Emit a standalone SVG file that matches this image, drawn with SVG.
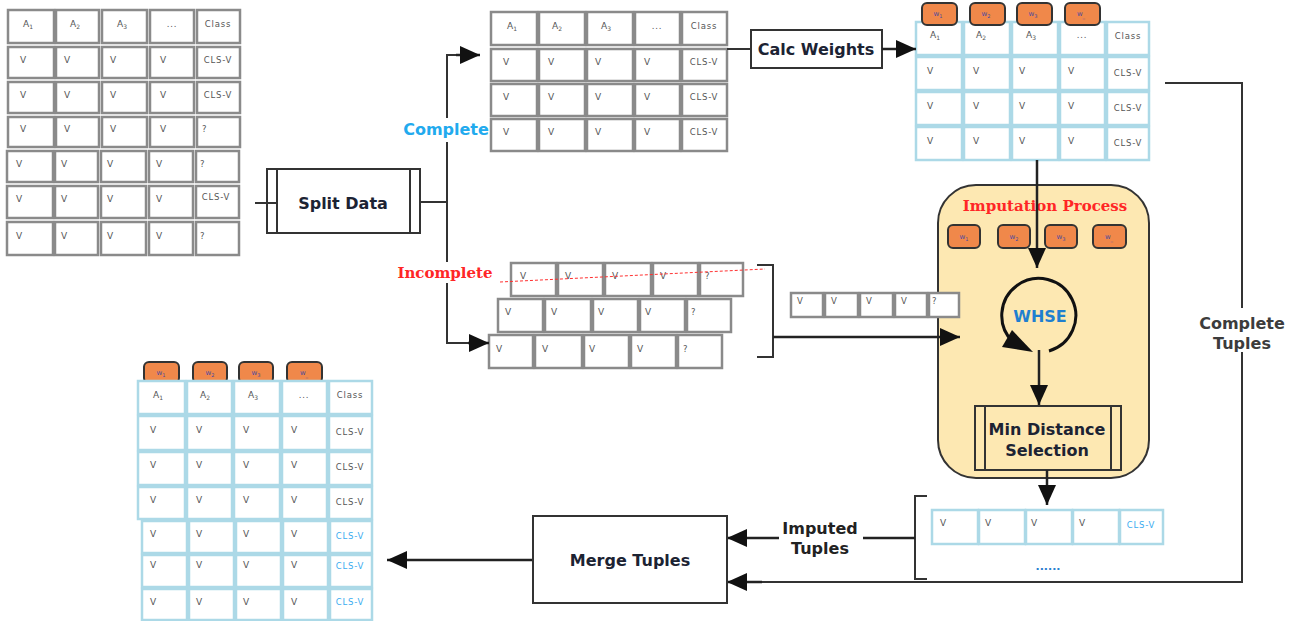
<svg xmlns="http://www.w3.org/2000/svg" width="1298" height="621" viewBox="0 0 1298 621">
<style>
.cg{fill:#fff;stroke:#8a8a8a;stroke-width:2.5}
.cb{fill:#fff;stroke:#acd9e7;stroke-width:2.5}
.t{font-family:"DejaVu Sans",sans-serif;font-size:9px;fill:#555}
.ts{font-family:"DejaVu Sans",sans-serif;font-size:8.5px;fill:#555;letter-spacing:0.8px}
.m{text-anchor:middle}
.blue{fill:#3aabf0}
.bd{fill:#f0884a;stroke:#333;stroke-width:2}
.bt{font-family:"DejaVu Sans",sans-serif;font-size:7px;fill:#4a4aa0;text-anchor:middle}
.ln{stroke:#333;stroke-width:2;fill:none}
.ar{stroke:#222;stroke-width:2.5;fill:none;marker-end:url(#ah)}
.lbl{font-family:"DejaVu Sans",sans-serif;font-weight:bold;font-size:16px;fill:#1c2333;text-anchor:middle}
.box{fill:#fff;stroke:#333;stroke-width:2}
</style>
<defs>
<marker id="ah" markerUnits="userSpaceOnUse" markerWidth="22" markerHeight="20" refX="20" refY="9" orient="auto"><path d="M0,0 L20,9 L0,18 z" fill="#111"/></marker>
</defs>
<rect width="1298" height="621" fill="#fff"/>

<g id="table-all">
<rect class="cg" x="8" y="10" width="46" height="33"/><rect class="cg" x="56" y="10" width="43" height="33"/><rect class="cg" x="102" y="10" width="45" height="33"/><rect class="cg" x="150" y="10" width="44" height="33"/><rect class="cg" x="197" y="10" width="43" height="33"/>
<rect class="cg" x="8" y="47" width="46" height="31"/><rect class="cg" x="56" y="47" width="43" height="31"/><rect class="cg" x="102" y="47" width="45" height="31"/><rect class="cg" x="150" y="47" width="44" height="31"/><rect class="cg" x="197" y="47" width="43" height="31"/>
<rect class="cg" x="8" y="82" width="46" height="31"/><rect class="cg" x="56" y="82" width="43" height="31"/><rect class="cg" x="102" y="82" width="45" height="31"/><rect class="cg" x="150" y="82" width="44" height="31"/><rect class="cg" x="197" y="82" width="43" height="31"/>
<rect class="cg" x="8" y="117" width="46" height="30"/><rect class="cg" x="56" y="117" width="43" height="30"/><rect class="cg" x="102" y="117" width="45" height="30"/><rect class="cg" x="150" y="117" width="44" height="30"/><rect class="cg" x="197" y="117" width="43" height="30"/>
<rect class="cg" x="7" y="151" width="46" height="31"/><rect class="cg" x="55" y="151" width="43" height="31"/><rect class="cg" x="101" y="151" width="45" height="31"/><rect class="cg" x="149" y="151" width="44" height="31"/><rect class="cg" x="196" y="151" width="43" height="31"/>
<rect class="cg" x="7" y="186" width="46" height="32"/><rect class="cg" x="55" y="186" width="43" height="32"/><rect class="cg" x="101" y="186" width="45" height="32"/><rect class="cg" x="149" y="186" width="44" height="32"/><rect class="cg" x="196" y="186" width="43" height="32"/>
<rect class="cg" x="7" y="222" width="46" height="33"/><rect class="cg" x="55" y="222" width="43" height="33"/><rect class="cg" x="101" y="222" width="45" height="33"/><rect class="cg" x="149" y="222" width="44" height="33"/><rect class="cg" x="196" y="222" width="43" height="33"/>
<text class="t" x="23" y="27">A<tspan font-size="6" dy="2">1</tspan></text><text class="t" x="70" y="27">A<tspan font-size="6" dy="2">2</tspan></text><text class="t" x="117" y="27">A<tspan font-size="6" dy="2">3</tspan></text><text class="ts m" x="172" y="27">...</text><text class="ts m" x="218" y="27">Class</text>
<text class="t" x="20" y="63">V</text><text class="t" x="64" y="63">V</text><text class="t" x="110" y="63">V</text><text class="t" x="160" y="63">V</text><text class="ts m" x="218" y="63">CLS-V</text>
<text class="t" x="20" y="98">V</text><text class="t" x="64" y="98">V</text><text class="t" x="110" y="98">V</text><text class="t" x="160" y="98">V</text><text class="ts m" x="218" y="98">CLS-V</text>
<text class="t" x="20" y="132">V</text><text class="t" x="64" y="132">V</text><text class="t" x="110" y="132">V</text><text class="t" x="160" y="132">V</text><text class="ts" x="202" y="132">?</text>
<text class="t" x="16" y="167">V</text><text class="t" x="61" y="167">V</text><text class="t" x="107" y="167">V</text><text class="t" x="156" y="167">V</text><text class="ts" x="200" y="167">?</text>
<text class="t" x="16" y="202">V</text><text class="t" x="61" y="202">V</text><text class="t" x="107" y="202">V</text><text class="t" x="156" y="202">V</text><text class="ts m" x="216" y="200">CLS-V</text>
<text class="t" x="16" y="239">V</text><text class="t" x="61" y="239">V</text><text class="t" x="107" y="239">V</text><text class="t" x="156" y="239">V</text><text class="ts" x="200" y="239">?</text>
</g>

<g id="split-data">
<rect class="box" x="267" y="169" width="153" height="64"/>
<line class="ln" x1="277" y1="169" x2="277" y2="233"/>
<line class="ln" x1="410" y1="169" x2="410" y2="233"/>
<text class="lbl" x="343" y="209">Split Data</text>
</g>

<g id="table-complete">
<rect class="cg" x="491" y="12" width="46" height="33"/><rect class="cg" x="539" y="12" width="46" height="33"/><rect class="cg" x="587" y="12" width="46" height="33"/><rect class="cg" x="635" y="12" width="45" height="33"/><rect class="cg" x="682" y="12" width="45" height="33"/>
<rect class="cg" x="491" y="49" width="46" height="32"/><rect class="cg" x="539" y="49" width="46" height="32"/><rect class="cg" x="587" y="49" width="46" height="32"/><rect class="cg" x="635" y="49" width="45" height="32"/><rect class="cg" x="682" y="49" width="45" height="32"/>
<rect class="cg" x="491" y="84" width="46" height="32"/><rect class="cg" x="539" y="84" width="46" height="32"/><rect class="cg" x="587" y="84" width="46" height="32"/><rect class="cg" x="635" y="84" width="45" height="32"/><rect class="cg" x="682" y="84" width="45" height="32"/>
<rect class="cg" x="491" y="119" width="46" height="32"/><rect class="cg" x="539" y="119" width="46" height="32"/><rect class="cg" x="587" y="119" width="46" height="32"/><rect class="cg" x="635" y="119" width="45" height="32"/><rect class="cg" x="682" y="119" width="45" height="32"/>
<text class="t" x="507" y="29">A<tspan font-size="6" dy="2">1</tspan></text><text class="t" x="552" y="29">A<tspan font-size="6" dy="2">2</tspan></text><text class="t" x="601" y="29">A<tspan font-size="6" dy="2">3</tspan></text><text class="ts m" x="657" y="29">...</text><text class="ts m" x="704" y="29">Class</text>
<text class="t" x="503" y="65">V</text><text class="t" x="548" y="65">V</text><text class="t" x="595" y="65">V</text><text class="t" x="644" y="65">V</text><text class="ts m" x="704" y="65">CLS-V</text>
<text class="t" x="503" y="100">V</text><text class="t" x="548" y="100">V</text><text class="t" x="595" y="100">V</text><text class="t" x="644" y="100">V</text><text class="ts m" x="704" y="100">CLS-V</text>
<text class="t" x="503" y="135">V</text><text class="t" x="548" y="135">V</text><text class="t" x="595" y="135">V</text><text class="t" x="644" y="135">V</text><text class="ts m" x="704" y="135">CLS-V</text>
</g>

<g id="calc-weights">
<rect class="box" x="751" y="30" width="131" height="38"/>
<text class="lbl" x="816" y="55">Calc Weights</text>
</g>

<g id="table-weighted">
<rect class="cb" x="916" y="22" width="46" height="33"/><rect class="cb" x="964" y="22" width="46" height="33"/><rect class="cb" x="1012" y="22" width="46" height="33"/><rect class="cb" x="1060" y="22" width="45" height="33"/><rect class="cb" x="1107" y="22" width="42" height="33"/>
<rect class="cb" x="916" y="57" width="46" height="33"/><rect class="cb" x="964" y="57" width="46" height="33"/><rect class="cb" x="1012" y="57" width="46" height="33"/><rect class="cb" x="1060" y="57" width="45" height="33"/><rect class="cb" x="1107" y="57" width="42" height="33"/>
<rect class="cb" x="916" y="92" width="46" height="33"/><rect class="cb" x="964" y="92" width="46" height="33"/><rect class="cb" x="1012" y="92" width="46" height="33"/><rect class="cb" x="1060" y="92" width="45" height="33"/><rect class="cb" x="1107" y="92" width="42" height="33"/>
<rect class="cb" x="916" y="127" width="46" height="33"/><rect class="cb" x="964" y="127" width="46" height="33"/><rect class="cb" x="1012" y="127" width="46" height="33"/><rect class="cb" x="1060" y="127" width="45" height="33"/><rect class="cb" x="1107" y="127" width="42" height="33"/>
<rect class="bd" x="922" y="3" width="35" height="22" rx="5"/><rect class="bd" x="970" y="3" width="35" height="22" rx="5"/><rect class="bd" x="1017" y="3" width="35" height="22" rx="5"/><rect class="bd" x="1065" y="3" width="35" height="22" rx="5"/>
<text class="bt" x="938" y="16">w<tspan font-size="5" dy="1.5">1</tspan></text><text class="bt" x="986" y="16">w<tspan font-size="5" dy="1.5">2</tspan></text><text class="bt" x="1033" y="16">w<tspan font-size="5" dy="1.5">3</tspan></text><text class="bt" x="1081" y="16">w<tspan font-size="5" dy="1.5">_</tspan></text>
<text class="t" x="930" y="38">A<tspan font-size="6" dy="2">1</tspan></text><text class="t" x="976" y="38">A<tspan font-size="6" dy="2">2</tspan></text><text class="t" x="1026" y="38">A<tspan font-size="6" dy="2">3</tspan></text><text class="ts m" x="1082" y="38">...</text><text class="ts m" x="1128" y="39">Class</text>
<text class="t" x="927" y="74">V</text><text class="t" x="973" y="74">V</text><text class="t" x="1019" y="74">V</text><text class="t" x="1068" y="74">V</text><text class="ts m" x="1128" y="76">CLS-V</text>
<text class="t" x="927" y="109">V</text><text class="t" x="973" y="109">V</text><text class="t" x="1019" y="109">V</text><text class="t" x="1068" y="109">V</text><text class="ts m" x="1128" y="111">CLS-V</text>
<text class="t" x="927" y="144">V</text><text class="t" x="973" y="144">V</text><text class="t" x="1019" y="144">V</text><text class="t" x="1068" y="144">V</text><text class="ts m" x="1128" y="146">CLS-V</text>
</g>

<g id="imputation-process">
<rect x="938" y="185" width="211" height="293" rx="38" fill="#fde8b2" stroke="#333" stroke-width="2"/>
<text x="1045" y="211" font-family="'DejaVu Serif',serif" font-weight="bold" font-size="15" fill="#ff2626" text-anchor="middle">Imputation Process</text>
<rect class="bd" x="948" y="225" width="32" height="23" rx="5"/><rect class="bd" x="998" y="225" width="32" height="23" rx="5"/><rect class="bd" x="1045" y="225" width="32" height="23" rx="5"/><rect class="bd" x="1093" y="225" width="33" height="23" rx="5"/>
<text class="bt" x="964" y="239">w<tspan font-size="5" dy="1.5">1</tspan></text><text class="bt" x="1014" y="239">w<tspan font-size="5" dy="1.5">2</tspan></text><text class="bt" x="1061" y="239">w<tspan font-size="5" dy="1.5">3</tspan></text><text class="bt" x="1109" y="239">w<tspan font-size="5" dy="1.5">_</tspan></text>
</g>

<g id="whse">
<path d="M1049,351 A37,37 0 1 0 1013,342" fill="none" stroke="#111" stroke-width="3"/>
<polygon points="1012,330 1002,347 1033,352" fill="#111"/>
<text x="1040" y="322" font-family="'DejaVu Sans',sans-serif" font-weight="bold" font-size="16" fill="#1f7fd0" text-anchor="middle">WHSE</text>
</g>

<g id="min-distance">
<rect x="975" y="406" width="146" height="64" fill="none" stroke="#333" stroke-width="2"/>
<line class="ln" x1="985" y1="406" x2="985" y2="470"/>
<line class="ln" x1="1111" y1="406" x2="1111" y2="470"/>
<text class="lbl" x="1047" y="435">Min Distance</text>
<text class="lbl" x="1047" y="456">Selection</text>
</g>

<g id="incomplete-rows">
<rect class="cg" x="511" y="263" width="45" height="33"/><rect class="cg" x="558" y="263" width="45" height="33"/><rect class="cg" x="605" y="263" width="46" height="33"/><rect class="cg" x="653" y="263" width="45" height="33"/><rect class="cg" x="700" y="263" width="43" height="33"/>
<rect class="cg" x="498" y="299" width="45" height="33"/><rect class="cg" x="545" y="299" width="46" height="33"/><rect class="cg" x="593" y="299" width="45" height="33"/><rect class="cg" x="640" y="299" width="45" height="33"/><rect class="cg" x="687" y="299" width="44" height="33"/>
<rect class="cg" x="489" y="335" width="44" height="33"/><rect class="cg" x="535" y="335" width="47" height="33"/><rect class="cg" x="584" y="335" width="45" height="33"/><rect class="cg" x="631" y="335" width="45" height="33"/><rect class="cg" x="678" y="335" width="44" height="33"/>
<text class="t" x="520" y="279">V</text><text class="t" x="565" y="279">V</text><text class="t" x="612" y="279">V</text><text class="t" x="660" y="279">V</text><text class="ts" x="705" y="279">?</text>
<text class="t" x="505" y="315">V</text><text class="t" x="551" y="315">V</text><text class="t" x="598" y="315">V</text><text class="t" x="645" y="315">V</text><text class="ts" x="691" y="315">?</text>
<text class="t" x="496" y="352">V</text><text class="t" x="542" y="352">V</text><text class="t" x="589" y="352">V</text><text class="t" x="637" y="352">V</text><text class="ts" x="683" y="352">?</text>
<line x1="500" y1="282" x2="765" y2="269" stroke="#ff3030" stroke-width="1" stroke-dasharray="3,2"/>
</g>

<g id="connectors">
<line class="ln" x1="255" y1="203" x2="277" y2="203"/>
<line class="ln" x1="420" y1="202" x2="447" y2="202"/>
<path class="ln" d="M447,202 V55 H458" stroke-width="2.5"/>
<line class="ar" x1="456" y1="55" x2="480" y2="55"/>
<path class="ln" d="M447,202 V343 H470" stroke-width="2.5"/>
<line class="ar" x1="468" y1="343" x2="489" y2="343"/>
<line class="ln" x1="727" y1="49" x2="751" y2="49"/>
<line class="ar" x1="882" y1="49" x2="916" y2="49"/>
<line class="ar" x1="1037" y1="160" x2="1037" y2="268"/>
<path class="ln" d="M757,265 H773 V357 H757"/>
<line class="ar" x1="773" y1="337" x2="960" y2="337"/>
<line class="ar" x1="1039" y1="350" x2="1039" y2="405"/>
<line class="ar" x1="1047" y1="470" x2="1047" y2="505"/>
<path class="ln" d="M927,496 H915 V579 H927"/>
<line class="ar" x1="915" y1="538" x2="727" y2="538"/>
<path class="ln" d="M1165,83 H1242 V582 H760" stroke-width="2.5"/>
<line class="ar" x1="762" y1="582" x2="727" y2="582"/>
<line class="ar" x1="533" y1="560" x2="387" y2="560"/>
</g>

<g id="labels">
<rect x="403" y="118" width="86" height="24" fill="#fff"/>
<text x="446" y="135" font-family="'DejaVu Sans',sans-serif" font-weight="bold" font-size="16" fill="#22aaee" text-anchor="middle">Complete</text>
<rect x="394" y="262" width="102" height="21" fill="#fff"/>
<text x="445" y="278" font-family="'DejaVu Serif',serif" font-weight="bold" font-size="15" fill="#ff2626" text-anchor="middle">Incomplete</text>
<rect x="1192" y="308" width="100" height="44" fill="#fff"/>
<text x="1242" y="329" font-family="'DejaVu Sans',sans-serif" font-weight="bold" font-size="16" fill="#3c3c3c" text-anchor="middle">Complete</text>
<text x="1242" y="349" font-family="'DejaVu Sans',sans-serif" font-weight="bold" font-size="16" fill="#3c3c3c" text-anchor="middle">Tuples</text>
<rect x="779" y="518" width="84" height="40" fill="#fff"/>
<text x="820" y="534" font-family="'DejaVu Sans',sans-serif" font-weight="bold" font-size="16" fill="#222" text-anchor="middle">Imputed</text>
<text x="820" y="554" font-family="'DejaVu Sans',sans-serif" font-weight="bold" font-size="16" fill="#222" text-anchor="middle">Tuples</text>
</g>

<g id="query-row">
<rect class="cg" x="791" y="293" width="32" height="24" stroke-width="2"/><rect class="cg" x="825" y="293" width="33" height="24" stroke-width="2"/><rect class="cg" x="860" y="293" width="33" height="24" stroke-width="2"/><rect class="cg" x="895" y="293" width="32" height="24" stroke-width="2"/><rect class="cg" x="929" y="293" width="30" height="24" stroke-width="2"/>
<text class="ts" x="797" y="304" font-size="7">V</text><text class="ts" x="831" y="304" font-size="7">V</text><text class="ts" x="866" y="304" font-size="7">V</text><text class="ts" x="901" y="304" font-size="7">V</text><text class="ts" x="932" y="304" font-size="7">?</text>
</g>

<g id="imputed-row">
<rect class="cb" x="932" y="510" width="46" height="34"/><rect class="cb" x="979" y="510" width="46" height="34"/><rect class="cb" x="1026" y="510" width="46" height="34"/><rect class="cb" x="1073" y="510" width="46" height="34"/><rect class="cb" x="1120" y="510" width="43" height="34"/>
<text class="t" x="940" y="526">V</text><text class="t" x="985" y="526">V</text><text class="t" x="1031" y="526">V</text><text class="t" x="1079" y="526">V</text><text class="ts m blue" x="1141" y="528">CLS-V</text>
<text x="1048" y="570" font-family="'DejaVu Sans',sans-serif" font-weight="bold" font-size="11" fill="#2a7fd0" text-anchor="middle">......</text>
</g>

<g id="merge-tuples">
<rect class="box" x="533" y="516" width="194" height="87"/>
<text class="lbl" x="630" y="566">Merge Tuples</text>
</g>

<g id="table-result">
<rect class="bd" x="144" y="362" width="35" height="21" rx="5"/><rect class="bd" x="193" y="362" width="34" height="21" rx="5"/><rect class="bd" x="239" y="362" width="34" height="21" rx="5"/><rect class="bd" x="287" y="362" width="35" height="21" rx="5"/>
<text class="bt" x="161" y="375">w<tspan font-size="5" dy="1.5">1</tspan></text><text class="bt" x="210" y="375">w<tspan font-size="5" dy="1.5">2</tspan></text><text class="bt" x="256" y="375">w<tspan font-size="5" dy="1.5">3</tspan></text><text class="bt" x="304" y="375">w<tspan font-size="5" dy="1.5">_</tspan></text>
<rect class="cb" x="138" y="381" width="47" height="33"/><rect class="cb" x="187" y="381" width="45" height="33"/><rect class="cb" x="234" y="381" width="46" height="33"/><rect class="cb" x="282" y="381" width="45" height="33"/><rect class="cb" x="329" y="381" width="43" height="33"/>
<rect class="cb" x="138" y="416" width="47" height="34"/><rect class="cb" x="187" y="416" width="45" height="34"/><rect class="cb" x="234" y="416" width="46" height="34"/><rect class="cb" x="282" y="416" width="45" height="34"/><rect class="cb" x="329" y="416" width="43" height="34"/>
<rect class="cb" x="138" y="452" width="47" height="33"/><rect class="cb" x="187" y="452" width="45" height="33"/><rect class="cb" x="234" y="452" width="46" height="33"/><rect class="cb" x="282" y="452" width="45" height="33"/><rect class="cb" x="329" y="452" width="43" height="33"/>
<rect class="cb" x="138" y="487" width="47" height="32"/><rect class="cb" x="187" y="487" width="45" height="32"/><rect class="cb" x="234" y="487" width="46" height="32"/><rect class="cb" x="282" y="487" width="45" height="32"/><rect class="cb" x="329" y="487" width="43" height="32"/>
<rect class="cb" x="142" y="521" width="45" height="32"/><rect class="cb" x="189" y="521" width="45" height="32"/><rect class="cb" x="236" y="521" width="45" height="32"/><rect class="cb" x="283" y="521" width="45" height="32"/><rect class="cb" x="330" y="521" width="42" height="32"/>
<rect class="cb" x="142" y="555" width="45" height="32"/><rect class="cb" x="189" y="555" width="45" height="32"/><rect class="cb" x="236" y="555" width="45" height="32"/><rect class="cb" x="283" y="555" width="45" height="32"/><rect class="cb" x="330" y="555" width="42" height="32"/>
<rect class="cb" x="142" y="589" width="45" height="31"/><rect class="cb" x="189" y="589" width="45" height="31"/><rect class="cb" x="236" y="589" width="45" height="31"/><rect class="cb" x="283" y="589" width="45" height="31"/><rect class="cb" x="330" y="589" width="42" height="31"/>
<text class="t" x="153" y="398">A<tspan font-size="6" dy="2">1</tspan></text><text class="t" x="200" y="398">A<tspan font-size="6" dy="2">2</tspan></text><text class="t" x="248" y="398">A<tspan font-size="6" dy="2">3</tspan></text><text class="ts m" x="304" y="398">...</text><text class="ts m" x="350" y="398">Class</text>
<text class="t" x="150" y="433">V</text><text class="t" x="196" y="433">V</text><text class="t" x="243" y="433">V</text><text class="t" x="291" y="433">V</text><text class="ts m" x="350" y="435">CLS-V</text>
<text class="t" x="150" y="468">V</text><text class="t" x="196" y="468">V</text><text class="t" x="243" y="468">V</text><text class="t" x="291" y="468">V</text><text class="ts m" x="350" y="470">CLS-V</text>
<text class="t" x="150" y="503">V</text><text class="t" x="196" y="503">V</text><text class="t" x="243" y="503">V</text><text class="t" x="291" y="503">V</text><text class="ts m" x="350" y="505">CLS-V</text>
<text class="t" x="150" y="537">V</text><text class="t" x="196" y="537">V</text><text class="t" x="243" y="537">V</text><text class="t" x="291" y="537">V</text><text class="ts m blue" x="350" y="539">CLS-V</text>
<text class="t" x="150" y="568">V</text><text class="t" x="196" y="568">V</text><text class="t" x="243" y="568">V</text><text class="t" x="291" y="568">V</text><text class="ts m blue" x="350" y="569">CLS-V</text>
<text class="t" x="150" y="605">V</text><text class="t" x="196" y="605">V</text><text class="t" x="243" y="605">V</text><text class="t" x="291" y="605">V</text><text class="ts m blue" x="350" y="605">CLS-V</text>
</g>
</svg>
